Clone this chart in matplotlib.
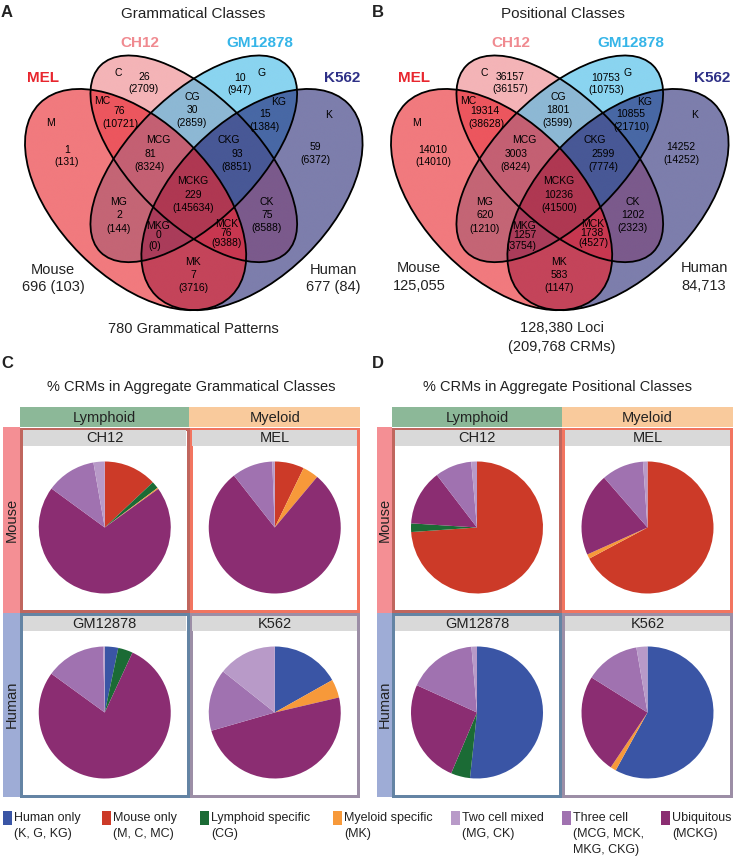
import numpy as np
import matplotlib
matplotlib.use("Agg")
import matplotlib.pyplot as plt
from matplotlib.patches import Ellipse, Rectangle
from matplotlib.colors import to_rgba

plt.rcParams['font.family'] = ['Liberation Sans', 'DejaVu Sans']

# ---------------- data ----------------
regions = ['M', 'C', 'G', 'K', 'MC', 'CG', 'KG', 'MCG', 'CKG', 'MCKG', 'MG', 'CK', 'MKG', 'MCK', 'MK']
gram_patterns = [1, 26, 10, 59, 76, 30, 15, 81, 93, 229, 2, 75, 0, 76, 7]
gram_crms = [131, 2709, 947, 6372, 10721, 2859, 1384, 8324, 8851, 145634, 144, 8588, 0, 9388, 3716]
pos_loci = [14010, 36157, 10753, 14252, 19314, 1801, 10855, 3003, 2599, 10236, 620, 1202, 1257, 1738, 583]
pos_crms = [14010, 36157, 10753, 14252, 38628, 3599, 21710, 8424, 7774, 41500, 1210, 2323, 3754, 4527, 1147]

cell_lines = ['MEL', 'CH12', 'GM12878', 'K562']
gram_mouse = (696, 103)
gram_human = (677, 84)
gram_total = 780
pos_mouse = 125055
pos_human = 84713
pos_loci_total = 128380
pos_crm_total = 209768

pie_categories = ['Human only', 'Mouse only', 'Lymphoid specific', 'Myeloid specific',
                  'Two cell mixed', 'Three cell', 'Ubiquitous']
pie_category_members = [['(K, G, KG)'], ['(M, C, MC)'], ['(CG)'], ['(MK)'], ['(MG, CK)'],
                        ['(MCG, MCK,', 'MKG, CKG)'], ['(MCKG)']]
pie_cells = ['CH12', 'MEL', 'GM12878', 'K562']
# percentages, in pie_categories order
gram_pct = {
    'CH12':    [0.0, 13.0, 1.75, 0.3, 2.75, 12.2, 70.0],
    'MEL':     [0.0, 7.2, 0.0, 3.9, 0.6, 10.0, 78.3],
    'GM12878': [3.3, 0.0, 3.6, 0.0, 0.4, 14.6, 78.1],
    'K562':    [16.8, 0.0, 0.0, 4.5, 14.3, 15.1, 49.1],
}
pos_pct = {
    'CH12':    [0.0, 73.9, 2.1, 0.0, 1.4, 9.0, 13.6],
    'MEL':     [0.0, 67.2, 0.0, 1.1, 1.1, 10.3, 20.3],
    'GM12878': [51.75, 0.0, 4.7, 0.0, 1.35, 16.9, 25.4],
    'K562':    [58.0, 0.0, 0.0, 1.4, 2.7, 13.4, 24.5],
}
lineages = ['Lymphoid', 'Myeloid']
species = ['Mouse', 'Human']

# ---------------- styles ----------------
W, H = 735, 857
region_colors = {
    'M': '#f17a7e', 'C': '#f4b4b7', 'G': '#8ad4f0', 'K': '#7d7eac',
    'MC': '#ec565e', 'MG': '#c46575', 'MK': '#c4445a', 'CG': '#8db8d4',
    'CK': '#7b5a8c', 'KG': '#4868a5', 'MCG': '#c46073', 'MCK': '#c83750',
    'MKG': '#aa3c5a', 'CKG': '#485896', 'MCKG': '#af3852',
}
set_name_colors = ['#e8262e', '#f08a90', '#35b5e8', '#2e3087']
# center u, center v, angle, semi-major, semi-minor
ell_geom = {'M': (0.35, 0.415, -45, 0.35, 0.2), 'C': (0.5, 0.52, -45, 0.34, 0.162),
            'G': (0.5, 0.52, 45, 0.34, 0.162), 'K': (0.65, 0.415, 45, 0.35, 0.2)}
SCALE = 388.0

pie_colors = ['#3a55a5', '#cc3a28', '#1b6b35', '#f7993a', '#b89ac8', '#a072b0', '#8b2d72']
draw_order = [0, 1, 2, 3, 6, 5, 4]   # clockwise from 12 o'clock
border_colors = {'CH12': '#c0665e', 'MEL': '#f27560', 'GM12878': '#6484a4', 'K562': '#9c8ea6'}
lineage_colors = ['#8cb898', '#f9ca9c']
species_colors = ['#f48f94', '#9eacd6']

venn_label_pos = {
    'M':    ((51, 123), (67, 150), (67, 162)),
    'C':    ((118, 73), (144, 77), (144, 89)),
    'G':    ((262, 73), (240, 78), (240, 90)),
    'K':    ((329, 115), (315, 147), (315, 160)),
    'MC':   ((102, 101), (119, 111), (120, 124)),
    'CG':   ((192, 97), (192, 110), (192, 123)),
    'KG':   ((279, 102), (265, 114), (265, 127)),
    'MCG':  ((158, 140), (150, 154), (150, 167)),
    'CKG':  ((229, 140), (237, 154), (237, 167)),
    'MCKG': ((193, 181), (193, 195), (193, 208)),
    'MG':   ((119, 202), (119, 215), (119, 229)),
    'CK':   ((267, 202), (267, 215), (267, 228)),
    'MKG':  ((158, 226), (159, 235), (155, 246)),
    'MCK':  ((227, 224), (226, 233), (227, 243)),
    'MK':   ((193, 262), (193, 275), (193, 288)),
}

fig = plt.figure(figsize=(W / 100, H / 100), dpi=100)
bg = fig.add_axes([0, 0, 1, 1])
bg.set_xlim(0, W)
bg.set_ylim(H, 0)
bg.axis('off')
TXT = '#222222'


def px_axes(x0, y0, w, h, z=1):
    return fig.add_axes([x0 / W, 1 - (y0 + h) / H, w / W, h / H], zorder=z)


def inside(letter, U, V):
    cx, cy, ang, sa, sb = ell_geom[letter]
    t = np.deg2rad(ang)
    dx, dy = U - cx, V - cy
    xr = dx * np.cos(t) + dy * np.sin(t)
    yr = -dx * np.sin(t) + dy * np.cos(t)
    return (xr / sa) ** 2 + (yr / sb) ** 2 <= 1


overlay = fig.add_axes([0, 0, 1, 1], zorder=3)
overlay.set_xlim(0, W)
overlay.set_ylim(H, 0)
overlay.axis('off')
overlay.patch.set_alpha(0)


def draw_venn(ox, counts, totals):
    left = 25 + ox - 0.065 * SCALE
    top = 56 + (0.785 - 0.9) * SCALE
    ax = px_axes(left, top, SCALE, 0.9 * SCALE, z=2)
    ax.set_xlim(0, 1)
    ax.set_ylim(0, 0.9)
    ax.axis('off')
    n = 1100
    u = np.linspace(0, 1, n)
    v = np.linspace(0, 0.9, int(n * 0.9))
    U, V = np.meshgrid(u, v)
    masks = {l: inside(l, U, V) for l in 'MCKG'}
    img = np.zeros(U.shape + (4,))
    for code, col in region_colors.items():
        m = np.ones(U.shape, bool)
        for l in 'MCKG':
            m &= masks[l] if l in code else ~masks[l]
        img[m] = to_rgba(col)
    ax.imshow(img, extent=(0, 1, 0, 0.9), origin='lower', aspect='auto', interpolation='antialiased')
    for l in 'MCKG':
        cx, cy, ang, sa, sb = ell_geom[l]
        ax.add_patch(Ellipse((cx, cy), 2 * sa, 2 * sb, angle=ang, fill=False,
                             ec='black', lw=1.3))
    for r, c, t in zip(regions, counts, totals):
        (p1, p2, p3) = venn_label_pos[r]
        overlay.text(p1[0] + ox, p1[1], r, ha='center', va='center', fontsize=7.5, color='black')
        overlay.text(p2[0] + ox, p2[1], f'{c}', ha='center', va='center', fontsize=7.5, color='black')
        overlay.text(p3[0] + ox, p3[1], f'({t})', ha='center', va='center', fontsize=7.5, color='black')
    return ax


draw_venn(0, gram_patterns, gram_crms)
draw_venn(366, pos_loci, pos_crms)

# set names
name_pos_A = [(43, 78), (140, 43), (260, 43), (342, 78)]
name_pos_B = [(414, 78), (511, 43), (631, 43), (712, 78)]
for names_pos in (name_pos_A, name_pos_B):
    for (x, y), nm, col in zip(names_pos, cell_lines, set_name_colors):
        overlay.text(x, y, nm, ha='center', va='center', fontsize=11, fontweight='bold', color=col)

# titles and side labels
for lab, (x, y) in zip('ABCD', [(7, 12), (378, 12), (7, 363), (378, 363)]):
    overlay.text(x, y, lab, ha='center', va='center', fontsize=12, fontweight='bold', color=TXT)
overlay.text(193, 14, 'Grammatical Classes', ha='center', va='center', fontsize=11, color=TXT)
overlay.text(563, 14, 'Positional Classes', ha='center', va='center', fontsize=11, color=TXT)

overlay.text(53, 270, 'Mouse', ha='center', va='center', fontsize=10.5, color=TXT)
overlay.text(53, 287, f'{gram_mouse[0]} ({gram_mouse[1]})', ha='center', va='center', fontsize=10.5, color=TXT)
overlay.text(333, 270, 'Human', ha='center', va='center', fontsize=10.5, color=TXT)
overlay.text(333, 287, f'{gram_human[0]} ({gram_human[1]})', ha='center', va='center', fontsize=10.5, color=TXT)
overlay.text(193, 329, f'{gram_total} Grammatical Patterns', ha='center', va='center', fontsize=10.5, color=TXT)

overlay.text(419, 268, 'Mouse', ha='center', va='center', fontsize=10.5, color=TXT)
overlay.text(419, 286, f'{pos_mouse:,}', ha='center', va='center', fontsize=10.5, color=TXT)
overlay.text(704, 268, 'Human', ha='center', va='center', fontsize=10.5, color=TXT)
overlay.text(704, 286, f'{pos_human:,}', ha='center', va='center', fontsize=10.5, color=TXT)
overlay.text(562, 328, f'{pos_loci_total:,} Loci', ha='center', va='center', fontsize=10.5, color=TXT)
overlay.text(562, 347, f'({pos_crm_total:,} CRMs)', ha='center', va='center', fontsize=10.5, color=TXT)

overlay.text(191, 387, '% CRMs in Aggregate Grammatical Classes', ha='center', va='center', fontsize=10.5, color=TXT)
overlay.text(558, 387, '% CRMs in Aggregate Positional Classes', ha='center', va='center', fontsize=10.5, color=TXT)


# ---------------- pies ----------------
def draw_pie_block(strip_x0, col_edges, pct):
    row_edges = [427, 612.5, 797]
    for i, (lab, col) in enumerate(zip(lineages, lineage_colors)):
        x0, x1 = col_edges[i], col_edges[i + 1]
        bg.add_patch(Rectangle((x0, 407), x1 - x0, 20, fc=col, ec='none'))
        bg.text((x0 + x1) / 2, 417.5, lab, ha='center', va='center', fontsize=10.5, color=TXT)
    for j, (lab, col) in enumerate(zip(species, species_colors)):
        y0, y1 = row_edges[j], row_edges[j + 1]
        bg.add_patch(Rectangle((strip_x0, y0), col_edges[0] - strip_x0, y1 - y0, fc=col, ec='none'))
        bg.text((strip_x0 + col_edges[0]) / 2, (y0 + y1) / 2, lab, ha='center', va='center',
                rotation=90, fontsize=10.5, color=TXT)
    k = 0
    for j in range(2):
        for i in range(2):
            cell = pie_cells[k]
            k += 1
            x0, x1 = col_edges[i], col_edges[i + 1]
            y0, y1 = row_edges[j], row_edges[j + 1]
            bw = 3
            bg.add_patch(Rectangle((x0 + bw / 2, y0 + bw / 2), x1 - x0 - bw, y1 - y0 - bw,
                                   fc='white', ec=border_colors[cell], lw=bw * 0.72, zorder=2))
            bg.add_patch(Rectangle((x0 + bw, y0 + bw), x1 - x0 - 2 * bw, 15.5, fc='#d9d9d9',
                                   ec='none', zorder=3))
            bg.text((x0 + x1) / 2, y0 + bw + 8, cell, ha='center', va='center', fontsize=10.5,
                    color=TXT, zorder=4)
            cx = (x0 + x1) / 2
            cy = (y0 + bw + 15.5 + y1 - bw) / 2
            r = 66
            ax = px_axes(cx - r, cy - r, 2 * r, 2 * r, z=4)
            vals = [pct[cell][d] for d in draw_order]
            cols = [pie_colors[d] for d in draw_order]
            keep = [(vv, cc) for vv, cc in zip(vals, cols) if vv > 0]
            ax.pie([kv[0] for kv in keep], colors=[kv[1] for kv in keep], startangle=90,
                   counterclock=False, radius=1, wedgeprops=dict(linewidth=0))
            ax.set_xlim(-1, 1)
            ax.set_ylim(-1, 1)
            ax.set_aspect('auto')


draw_pie_block(3, [20, 189.5, 360], gram_pct)
draw_pie_block(377, [392, 562, 733], pos_pct)

# ---------------- legend ----------------
leg_x = [3, 102, 200, 333, 451, 562, 661]
for x, lab, mem, col in zip(leg_x, pie_categories, pie_category_members, pie_colors):
    bg.add_patch(Rectangle((x, 811), 9, 14, fc=col, ec='none'))
    for li, line in enumerate([lab] + mem):
        bg.text(x + 11, 818 + 16 * li, line, ha='left', va='center', fontsize=9, color=TXT)

fig.savefig('out.png', dpi=100)
